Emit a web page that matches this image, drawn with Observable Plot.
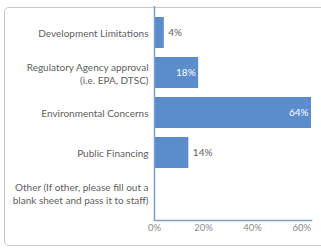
<!DOCTYPE html>
<html><head><meta charset="utf-8">
<script src="https://cdn.jsdelivr.net/npm/d3@7"></script>
<script src="https://cdn.jsdelivr.net/npm/@observablehq/plot@0.6"></script>
<style>
body{margin:0;background:#fff;width:321px;height:248px;overflow:hidden;position:relative;font-family:Lato,sans-serif;}
#card{position:absolute;left:4px;top:7px;width:340px;height:237px;border:1px solid #c8c8c8;border-radius:5px;}
#chart{position:absolute;left:0;top:0;}
</style></head><body>
<div id="card"></div>
<div id="chart"></div>
<script>
const categories = [
  "Development Limitations",
  "Regulatory Agency approval\n(i.e. EPA, DTSC)",
  "Environmental Concerns",
  "Public Financing",
  "Other (If other, please fill out a\nblank sheet and pass it to staff)"
];
const values = [4, 18, 64, 14, 0];
const xTicks = [0, 20, 40, 60];
const data = categories.map((c, i) => ({category: c, value: values[i]}));
const inside = d => d.value >= 15;

const blue = "#5b8ccb";
const axisColor = "#7f9fcb";
const chart = Plot.plot({
  width: 321, height: 248,
  marginLeft: 154, marginRight: 10, marginTop: 6, marginBottom: 28,
  style: {fontFamily: "Lato, sans-serif", background: "transparent"},
  x: {domain: [0, 64], axis: null, label: null},
  y: {domain: categories, padding: 0.22, axis: null, label: null},
  marks: [
    Plot.barX(data, {x: "value", y: "category", fill: blue}),
    Plot.ruleX([0], {stroke: axisColor, strokeWidth: 1.5}),
    Plot.frame({anchor: "bottom", stroke: axisColor, strokeWidth: 1.5}),
    Plot.axisX(xTicks, {anchor: "bottom", label: null, tickFormat: d => d + "%", tickSize: 0, tickPadding: 4, fontSize: 9.5, fill: "#8a8a8a"}),
    Plot.axisY({anchor: "left", label: null, tickSize: 0, tickPadding: 6, fontSize: 10, fill: "#606060", lineHeight: 1.3, textOverflow: null, lineWidth: 40}),
    Plot.text(data.filter(d => d.value > 0 && !inside(d)), {x: "value", y: "category", text: d => d.value + "%", textAnchor: "start", dx: 4, fill: "#606060", fontSize: 10}),
    Plot.text(data.filter(inside), {x: "value", y: "category", text: d => d.value + "%", textAnchor: "end", dx: -3, fill: "#fff", fontSize: 10})
  ]
});
document.getElementById("chart").append(chart);
</script>
</body></html>
